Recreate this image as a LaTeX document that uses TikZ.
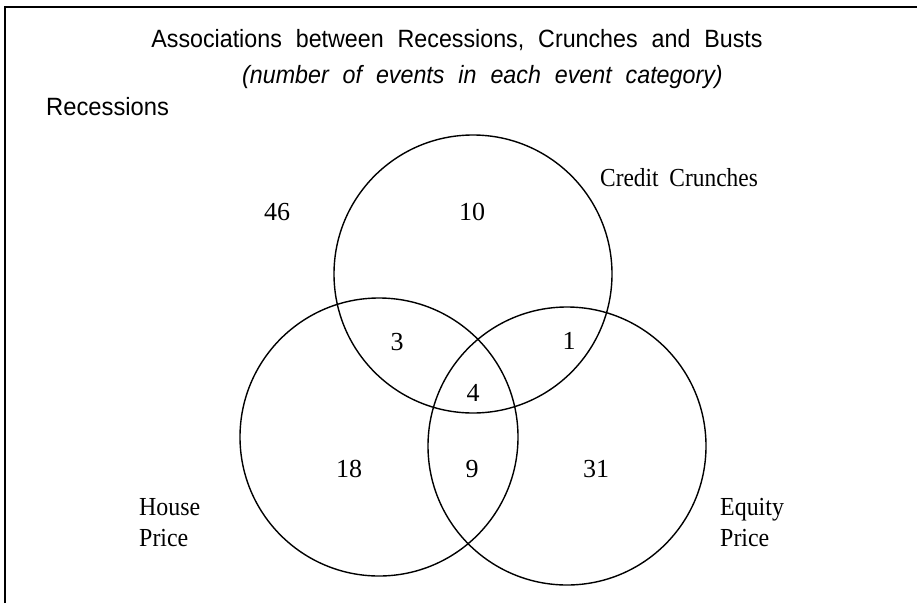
\documentclass[tikz,border=0pt]{standalone}
\usepackage{fontspec}
\setmainfont{Liberation Serif}
\newfontfamily\headsans{Liberation Sans}
% wider inter-word gaps, as in the printed headings
\newcommand\widewords[1]{\spaceskip=#1\relax}
% slightly condensed lettering
\newcommand\narrowtext[2]{\scalebox{#1}[1]{#2}}
\begin{document}
\begin{tikzpicture}[x=1pt,y=-1pt,
  heading/.style={inner sep=0pt, font=\headsans\fontsize{25}{30}\selectfont},
  setlabel/.style={inner sep=0pt, align=left, font=\fontsize{26}{31}\selectfont},
  count/.style={inner sep=0pt, font=\fontsize{26}{30}\selectfont},
  setcircle/.style={draw=black, line width=1.4pt},
  frameline/.style={draw=black, line width=2.5pt}]
\useasboundingbox (0,0) rectangle (917,603);

% frame along the top and left edges
\coordinate (fbl) at (5,603);
\coordinate (ftl) at (5,7);
\coordinate (ftr) at (917,7);
\draw[frameline] (fbl) -- (ftl) -- (ftr);

% headings
\node[heading, anchor=base] (title) at (457,47)
  {\narrowtext{0.93}{\widewords{15pt}Associations between Recessions, Crunches and Busts}};
\node[heading, anchor=base west] (subtitle) at (242,83)
  {\narrowtext{0.93}{\widewords{15pt}\itshape (number of events in each event category)}};
\node[heading, anchor=base west] (rec) at (46,115) {\narrowtext{0.95}{Recessions}};

% the three event sets
\draw[setcircle] (473,274) circle[radius=139];
\draw[setcircle] (379,437) circle[radius=139];
\draw[setcircle] (567,446) circle[radius=139];

% set labels
\node[setlabel, anchor=base west] (cc) at (600,186)
  {\narrowtext{0.9}{\widewords{12pt}Credit Crunches}};
\node[setlabel, anchor=north west] (hp) at (139,498)
  {\narrowtext{0.92}{House}\\\narrowtext{0.92}{Price}};
\node[setlabel, anchor=north west] (ep) at (720,498)
  {\narrowtext{0.92}{Equity}\\\narrowtext{0.92}{Price}};

% counts per region
\node[count] (n46) at (277,212) {46};
\node[count] (n10) at (472,212) {10};
\node[count] (n3) at (397,342) {3};
\node[count] (n1) at (569,341) {1};
\node[count] (n4) at (473,393) {4};
\node[count] (n18) at (349,469) {18};
\node[count] (n9) at (472,469) {9};
\node[count] (n31) at (596,469) {31};
\end{tikzpicture}
\end{document}
